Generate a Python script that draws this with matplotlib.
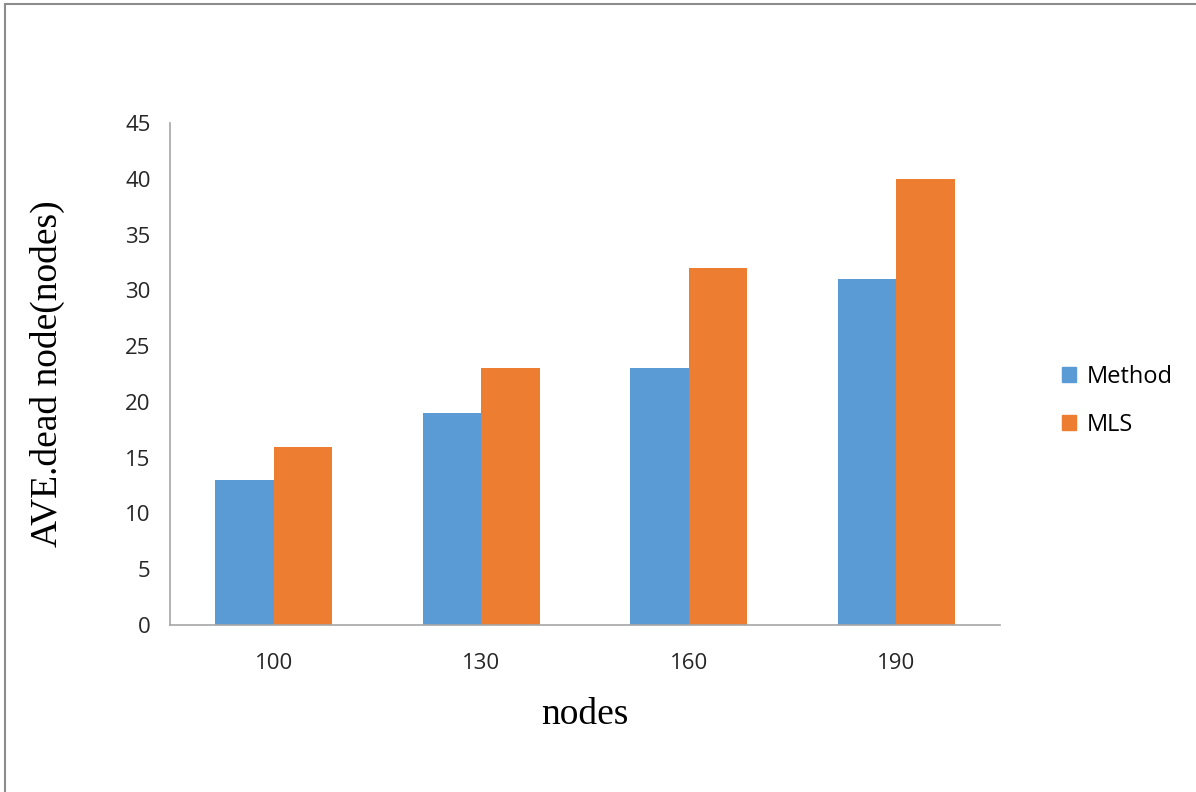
import numpy as np
import matplotlib.pyplot as plt
from matplotlib.patches import Rectangle, Patch

categories = ["100", "130", "160", "190"]
method_vals = [13, 19, 23, 31]
mls_vals = [16, 23, 32, 40]
series_names = ["Method", "MLS"]

BLUE = "#5B9BD5"
ORANGE = "#ED7D31"
TICK_FONT = "Open Sans"
LABEL_FONT = "Liberation Serif"

fig = plt.figure(figsize=(11.96, 7.92), dpi=100)

# outer chart frame
fig.patches.append(Rectangle((5 / 1196, -0.01), 1.02, 1 - 4 / 792 + 0.01,
                             transform=fig.transFigure, fill=False,
                             edgecolor="#8c8c8c", linewidth=1.5))

ax = fig.add_axes([170 / 1196, 167 / 792, 830 / 1196, 502 / 792])

x = np.arange(len(categories))
w = 0.282
ax.bar(x - w / 2, method_vals, w, color=BLUE, label=series_names[0])
ax.bar(x + w / 2, mls_vals, w, color=ORANGE, label=series_names[1])

ax.set_xlim(-0.5, len(categories) - 0.5)
ax.set_ylim(0, 45)
ax.set_yticks(range(0, 46, 5))
ax.set_xticks(x)
ax.set_xticklabels(categories)

for s in ["top", "right"]:
    ax.spines[s].set_visible(False)
for s in ["left", "bottom"]:
    ax.spines[s].set_color("#a6a6a6")
    ax.spines[s].set_linewidth(1.2)

ax.tick_params(length=0, labelsize=16, colors="#262626", pad=14)
for lbl in ax.get_xticklabels() + ax.get_yticklabels():
    lbl.set_fontfamily(TICK_FONT)
ax.tick_params(axis="x", pad=20)

ax.set_ylabel("AVE.dead node(nodes)", fontsize=27, family=LABEL_FONT, labelpad=43)
ax.set_xlabel("nodes", fontsize=27, family=LABEL_FONT, labelpad=17)

handles = [Patch(color=BLUE), Patch(color=ORANGE)]
fig.legend(handles, series_names, loc="center left",
           bbox_to_anchor=(1041 / 1196, 1 - 401 / 792), frameon=False,
           prop={"family": TICK_FONT, "size": 17}, handlelength=0.6,
           handleheight=0.6, handletextpad=0.45, labelspacing=1.0)

fig.savefig("out.png", dpi=100)
